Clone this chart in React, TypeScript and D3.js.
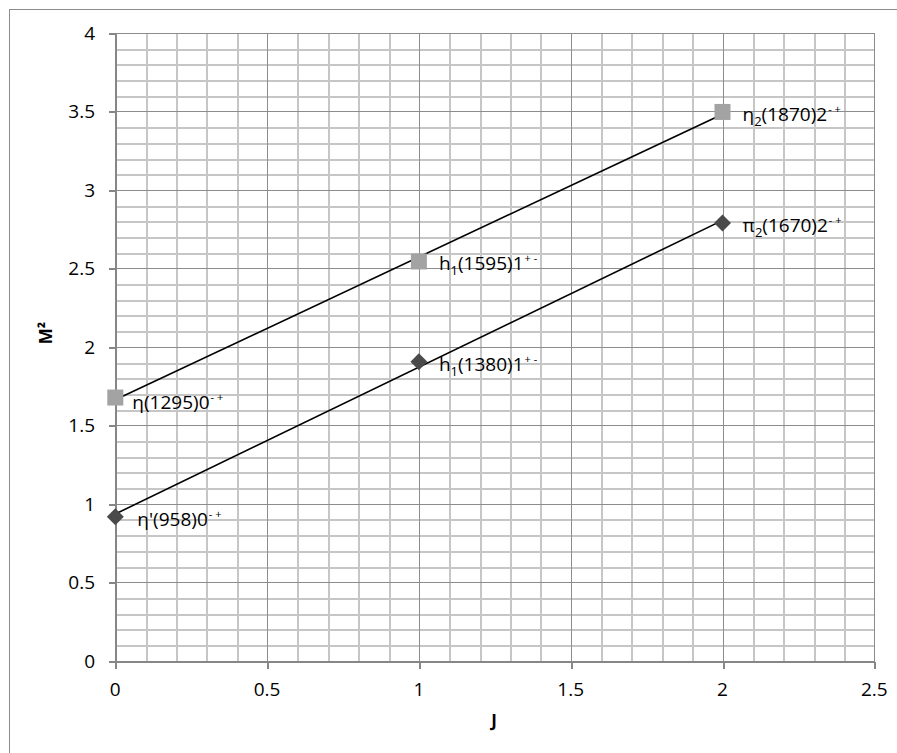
import React from "react";
import * as d3 from "d3";

// Regge-like trajectories: spin J versus mass squared (GeV²)
const spins = [0, 1, 2];
const upperMasses = [1.295, 1.595, 1.87];
const lowerMasses = [0.958, 1.38, 1.67];
const upperNames = ["η(1295)", "h|1|(1595)", "η|2|(1870)"];
const upperQuantum = ["0", "1", "2"];
const upperPC = ["- +", "+ -", "- +"];
const lowerNames = ["η'(958)", "h|1|(1380)", "π|2|(1670)"];
const lowerQuantum = ["0", "1", "2"];
const lowerPC = ["- +", "+ -", "- +"];
const xTicks = [0, 0.5, 1, 1.5, 2, 2.5];
const yTicks = [0, 0.5, 1, 1.5, 2, 2.5, 3, 3.5, 4];

const W = 897;
const H = 753;
const plot = { left: 115.3, right: 874.3, top: 33, bottom: 660.7 };
const FONT = "'Open Sans', 'Noto Sans', 'DejaVu Sans', sans-serif";
const FS = 19;

const x = d3.scaleLinear().domain([0, 2.5]).range([plot.left, plot.right]);
const y = d3.scaleLinear().domain([0, 4]).range([plot.bottom, plot.top]);
// crisp 1px-aligned positions for grid lines
const px = (v: number) => Math.round(v) + 0.5;

type Pt = { j: number; m2: number; name: string; q: string; pc: string };

function buildSeries(masses: number[], names: string[], qs: string[], pcs: string[]): Pt[] {
  return spins.map((j, i) => ({ j, m2: masses[i] * masses[i], name: names[i], q: qs[i], pc: pcs[i] }));
}

// least-squares linear trendline
function trend(pts: Pt[]) {
  const mx = d3.mean(pts, (p) => p.j)!;
  const my = d3.mean(pts, (p) => p.m2)!;
  const sxy = d3.sum(pts, (p) => (p.j - mx) * (p.m2 - my));
  const sxx = d3.sum(pts, (p) => (p.j - mx) ** 2);
  const slope = sxy / sxx;
  const icpt = my - slope * mx;
  const j0 = d3.min(pts, (p) => p.j)!;
  const j1 = d3.max(pts, (p) => p.j)!;
  return [
    [j0, icpt + slope * j0],
    [j1, icpt + slope * j1],
  ] as [number, number][];
}

function Label({ p, dx, dy }: { p: Pt; dx: number; dy: number }) {
  // names use "|" to delimit a subscript part
  const parts = p.name.split("|");
  return (
    <text x={x(p.j) + dx} y={y(p.m2) + dy} fontFamily={FONT} fontSize={FS} fill="#000">
      {parts.map((s, i) =>
        i % 2 === 1 ? (
          <tspan key={i} fontSize={13} dy={5}>
            {s}
          </tspan>
        ) : (
          <tspan key={i} dy={i > 0 ? -5 : 0}>
            {s}
          </tspan>
        )
      )}
      <tspan>{p.q}</tspan>
      <tspan fontSize={11} dy={-8} dx={1}>
        {p.pc}
      </tspan>
    </text>
  );
}

export default function App() {
  const upper = buildSeries(upperMasses, upperNames, upperQuantum, upperPC);
  const lower = buildSeries(lowerMasses, lowerNames, lowerQuantum, lowerPC);
  const line = d3
    .line<[number, number]>()
    .x((d) => x(d[0]))
    .y((d) => y(d[1]));

  const minorX = d3.range(0, 2.5001, 0.1).map((v) => +v.toFixed(2));
  const minorY = d3.range(0, 4.0001, 0.1).map((v) => +v.toFixed(2));
  const isMajor = (v: number) => Math.abs(v * 2 - Math.round(v * 2)) < 1e-6;
  const L = px(plot.left);
  const R = px(plot.right);
  const T = px(plot.top);
  const B = px(plot.bottom);

  return (
    <svg
      width={W}
      height={H}
      style={{ position: "absolute", left: 0, top: 0, background: "#fff" }}
    >
      <rect x={9.5} y={9.5} width={W + 10} height={H + 10} fill="#fff" stroke="#8c8c8c" />

      {/* minor grid */}
      <g shapeRendering="crispEdges">
        {minorX.filter((v) => !isMajor(v)).map((v) => (
          <line key={"mx" + v} x1={px(x(v))} x2={px(x(v))} y1={T} y2={B} stroke="#c6c6c6" strokeWidth={2} />
        ))}
        {minorY.filter((v) => !isMajor(v)).map((v) => (
          <line key={"my" + v} x1={L} x2={R} y1={px(y(v))} y2={px(y(v))} stroke="#c6c6c6" strokeWidth={2} />
        ))}
        {/* major grid */}
        {xTicks.map((v) => (
          <line key={"gx" + v} x1={px(x(v))} x2={px(x(v))} y1={T} y2={B} stroke="#8c8c8c" strokeWidth={1} />
        ))}
        {yTicks.map((v) => (
          <line key={"gy" + v} x1={L} x2={R} y1={px(y(v))} y2={px(y(v))} stroke="#8c8c8c" strokeWidth={1} />
        ))}

        {/* axes */}
        <line x1={L} x2={L} y1={T} y2={B + 6} stroke="#868686" strokeWidth={2} />
        <line x1={L - 7} x2={R} y1={B} y2={B} stroke="#868686" strokeWidth={2} />
        {yTicks.map((v) => (
          <line key={"ty" + v} x1={L - 7} x2={L} y1={px(y(v))} y2={px(y(v))} stroke="#868686" strokeWidth={2} />
        ))}
        {xTicks.map((v) => (
          <line key={"tx" + v} x1={px(x(v))} x2={px(x(v))} y1={B} y2={B + 7} stroke="#868686" strokeWidth={2} />
        ))}
      </g>

      {/* tick labels */}
      {yTicks.map((v) => (
        <text key={"yl" + v} x={95} y={y(v)} dy="0.36em" textAnchor="end" fontFamily={FONT} fontSize={FS} fill="#000">
          {v}
        </text>
      ))}
      {xTicks.map((v) => (
        <text key={"xl" + v} x={x(v)} y={696} textAnchor="middle" fontFamily={FONT} fontSize={FS} fill="#000">
          {v}
        </text>
      ))}

      {/* axis titles */}
      <text x={494} y={727} textAnchor="middle" fontFamily={FONT} fontWeight="bold" fontSize={17} fill="#000">
        J
      </text>
      <text
        transform={`translate(52,333) rotate(-90)`}
        textAnchor="middle"
        fontFamily={FONT}
        fontWeight="bold"
        fontSize={17}
        fill="#000"
      >
        M²
      </text>

      {/* trendlines */}
      <path d={line(trend(upper))!} fill="none" stroke="#000" strokeWidth={1.6} />
      <path d={line(trend(lower))!} fill="none" stroke="#000" strokeWidth={1.6} />

      {/* markers */}
      {upper.map((p) => (
        <rect key={"u" + p.j} x={x(p.j) - 8} y={y(p.m2) - 8} width={16} height={16} fill="#a3a3a3" />
      ))}
      {lower.map((p) => (
        <rect
          key={"l" + p.j}
          x={-6}
          y={-6}
          width={12}
          height={12}
          fill="#4a4a4a"
          transform={`translate(${x(p.j)},${y(p.m2)}) rotate(45)`}
        />
      ))}

      {/* labels */}
      {upper.map((p, i) => (
        <Label key={"ul" + i} p={p} dx={i === 0 ? 17 : 20} dy={i === 0 ? 11 : 9} />
      ))}
      {lower.map((p, i) => (
        <Label key={"ll" + i} p={p} dx={i === 0 ? 22 : 20} dy={9} />
      ))}
    </svg>
  );
}
